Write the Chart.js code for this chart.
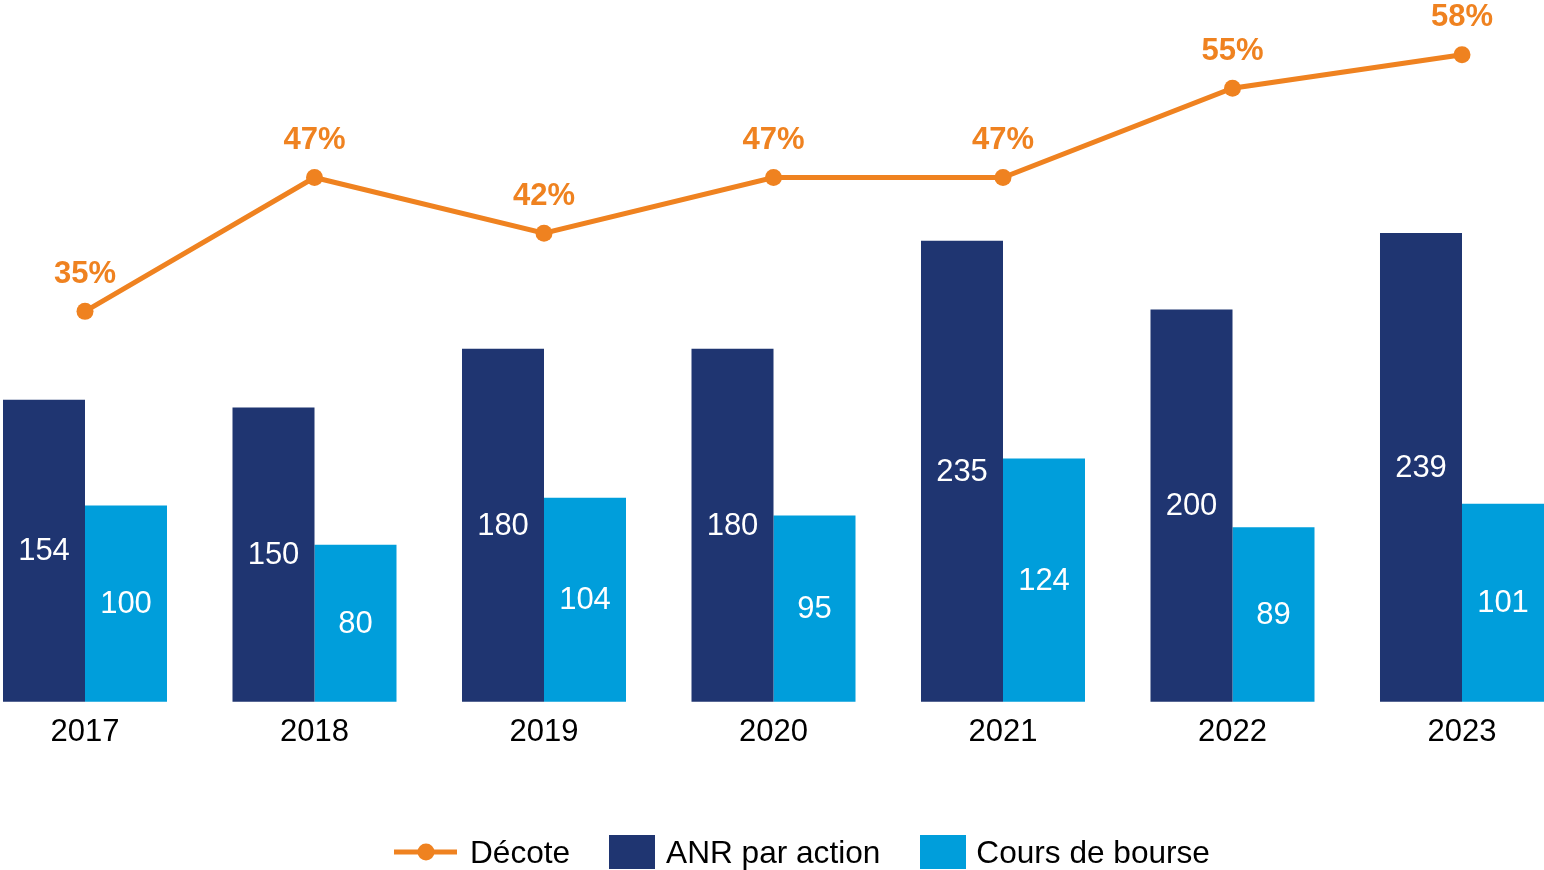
<!DOCTYPE html>
<html lang="fr">
<head>
    <meta charset="UTF-8">
    <title>ANR par action, cours de bourse et décote</title>
    <style>
        html, body {
            margin: 0;
            padding: 0;
            background: #fff;
            overflow: hidden;
        }

        body {
            font-family: Arial, "Liberation Sans", sans-serif;
        }

        #chart-wrap {
            position: relative;
            width: 1544px;
            height: 870px;
        }

        #legend {
            position: absolute;
            left: 394px;
            top: 835px;
            height: 34px;
            display: flex;
            align-items: center;
            font-size: 31.6px;
            color: #000;
            white-space: nowrap;
        }

        #legend .box {
            display: inline-block;
            width: 46px;
            height: 34px;
        }
    </style>
</head>

<body>
    <div id="chart-wrap">
        <canvas id="chart" width="1544" height="870"></canvas>

        <!-- Legend -->
        <div id="legend">
            <svg width="63" height="34">
                <line x1="0" y1="17" x2="63" y2="17" stroke="#EF8220" stroke-width="5" />
                <circle cx="32" cy="17" r="8.5" fill="#EF8220" />
            </svg>
            <span style="margin-left: 13px;">Décote</span>
            <span class="box" style="background: #1F3571; margin-left: 39px;"></span>
            <span style="margin-left: 11px;">ANR par action</span>
            <span class="box" style="background: #009EDB; margin-left: 40px;"></span>
            <span style="margin-left: 10px;">Cours de bourse</span>
        </div>
    </div>

    <script src="https://cdn.jsdelivr.net/npm/chart.js"></script>
    <script>
        // Data
        const years = ['2017', '2018', '2019', '2020', '2021', '2022', '2023'];
        const anrValues = [154, 150, 180, 180, 235, 200, 239];
        const coursValues = [100, 80, 104, 95, 124, 89, 101];
        const decoteValues = [35, 47, 42, 47, 47, 55, 58];

        const navy = '#1F3571';
        const lightBlue = '#009EDB';
        const orange = '#EF8220';

        // Draws the numbers on the bars and the percentages above the line
        const valueLabels = {
            id: 'valueLabels',
            afterDatasetsDraw(chart) {
                const ctx = chart.ctx;
                ctx.save();
                ctx.textAlign = 'center';
                ctx.textBaseline = 'middle';
                chart.data.datasets.forEach((ds, i) => {
                    const meta = chart.getDatasetMeta(i);
                    meta.data.forEach((el, j) => {
                        const v = ds.data[j];
                        if (ds.type === 'line') {
                            ctx.fillStyle = orange;
                            ctx.font = 'bold 31px Arial';
                            ctx.fillText(v + '%', el.x, el.y - 37);
                        } else {
                            ctx.fillStyle = '#fff';
                            ctx.font = '31px Arial';
                            ctx.fillText(String(v), el.x, (el.y + el.base) / 2 + 1);
                        }
                    });
                });
                ctx.restore();
            }
        };

        const ctx = document.getElementById('chart').getContext('2d');
        const chart = new Chart(ctx, {
            data: {
                labels: years,
                datasets: [
                    {
                        type: 'line',
                        label: 'Décote',
                        data: decoteValues,
                        yAxisID: 'y2',
                        borderColor: orange,
                        backgroundColor: orange,
                        borderWidth: 5,
                        pointRadius: 8.5,
                        pointBackgroundColor: orange,
                        pointBorderWidth: 0,
                        tension: 0,
                        clip: false,
                        order: 0
                    },
                    {
                        type: 'bar',
                        label: 'ANR par action',
                        data: anrValues,
                        yAxisID: 'y',
                        backgroundColor: navy,
                        borderWidth: 0,
                        categoryPercentage: 0.7146,
                        barPercentage: 1,
                        clip: false,
                        order: 1
                    },
                    {
                        type: 'bar',
                        label: 'Cours de bourse',
                        data: coursValues,
                        yAxisID: 'y',
                        backgroundColor: lightBlue,
                        borderWidth: 0,
                        categoryPercentage: 0.7146,
                        barPercentage: 1,
                        clip: false,
                        order: 1
                    }
                ]
            },
            options: {
                responsive: false,
                maintainAspectRatio: false,
                animation: false,
                events: [],
                layout: {
                    padding: { top: 0, left: 85, right: 82, bottom: 107 }
                },
                plugins: {
                    legend: { display: false },
                    tooltip: { enabled: false },
                    title: { display: false }
                },
                scales: {
                    x: {
                        offset: false,
                        grid: { display: false, drawTicks: false },
                        border: { display: false },
                        ticks: {
                            color: '#000',
                            font: { family: 'Arial', size: 31 },
                            padding: 12,
                            maxRotation: 0,
                            autoSkip: false
                        }
                    },
                    y: {
                        display: false,
                        min: 0,
                        max: 353.4
                    },
                    y2: {
                        display: false,
                        position: 'right',
                        min: 0,
                        max: 62.15
                    }
                }
            },
            plugins: [valueLabels]
        });
    </script>
</body>

</html>
